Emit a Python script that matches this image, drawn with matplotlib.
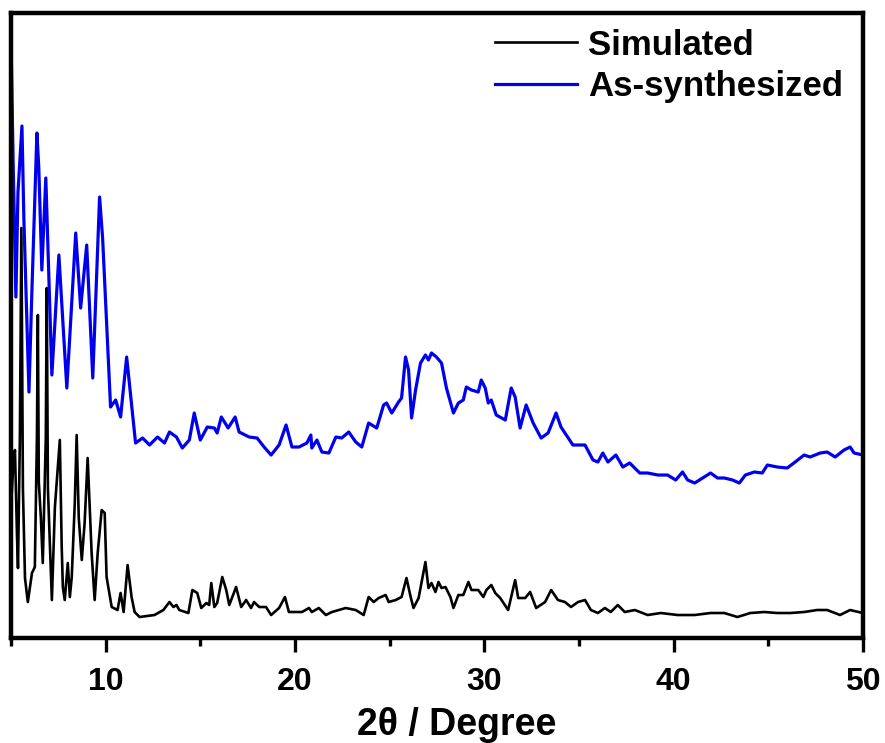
import matplotlib
matplotlib.use('Agg')
import matplotlib.pyplot as plt
from matplotlib.ticker import MultipleLocator

plt.rcParams['font.family'] = ['Liberation Sans', 'DejaVu Sans']
plt.rcParams['font.weight'] = 'bold'

# PXRD patterns (2theta in degrees, intensity a.u.)
sim_2theta = [5.00, 5.11, 5.21, 5.32, 5.37, 5.47, 5.55, 5.63, 5.74, 5.89, 6.11, 6.26,
              6.37, 6.42, 6.47, 6.58, 6.68, 6.84, 6.89, 6.95, 7.16, 7.32, 7.58, 7.68,
              7.74, 7.84, 8.00, 8.11, 8.21, 8.37, 8.47, 8.58, 8.74, 8.89, 9.05, 9.26,
              9.42, 9.58, 9.79, 9.95, 10.05, 10.32, 10.63, 10.79, 10.95, 11.16, 11.37,
              11.53, 11.79, 12.58, 13.05, 13.37, 13.58, 13.74, 13.89, 14.37, 14.58, 14.84,
              15.05, 15.32, 15.47, 15.58, 15.74, 15.89, 16.16, 16.37, 16.53, 16.89, 17.16,
              17.42, 17.68, 17.84, 18.11, 18.47, 18.74, 19.16, 19.47, 19.68, 20.05, 20.37,
              20.74, 20.89, 21.26, 21.63, 21.95, 22.32, 22.68, 23.21, 23.63, 23.89, 24.16,
              24.42, 24.79, 24.95, 25.32, 25.63, 25.89, 26.11, 26.26, 26.53, 26.89, 27.05,
              27.21, 27.42, 27.58, 27.74, 27.95, 28.21, 28.37, 28.63, 28.89, 29.16, 29.32,
              29.68, 29.95, 30.11, 30.37, 30.58, 30.84, 31.26, 31.63, 31.79, 32.16, 32.42,
              32.74, 33.21, 33.53, 33.89, 34.26, 34.58, 34.95, 35.32, 35.63, 36.00, 36.37,
              36.68, 37.05, 37.42, 37.95, 38.63, 39.32, 40.21, 41.11, 41.95, 42.68, 43.37,
              44.05, 44.79, 45.47, 46.16, 46.89, 47.58, 48.11, 48.79, 49.32, 50.00]
sim_int = [130, 170, 188, 101, 70, 200, 410, 150, 60, 36, 65, 71,
           200, 323, 156, 120, 75, 200, 350, 150, 38, 131, 198, 91,
           51, 38, 75, 41, 61, 135, 203, 120, 78, 115, 180, 85,
           38, 85, 128, 125, 61, 31, 28, 45, 26, 73, 41,
           26, 21, 23, 28, 36, 31, 33, 28, 25, 48, 45,
           30, 35, 33, 55, 31, 35, 61, 48, 33, 51, 31,
           38, 30, 36, 31, 31, 23, 30, 41, 26, 26, 26,
           30, 26, 30, 23, 26, 28, 30, 28, 23, 41, 36,
           40, 43, 36, 38, 41, 60, 41, 30, 40, 76, 50,
           55, 46, 56, 50, 51, 41, 30, 43, 43, 56, 48,
           48, 41, 48, 53, 45, 40, 28, 58, 40, 40, 46,
           30, 36, 48, 38, 36, 31, 36, 38, 28, 25, 30,
           26, 33, 26, 28, 23, 25, 23, 23, 25, 25, 21,
           25, 26, 25, 25, 26, 28, 28, 23, 28, 25]

syn_2theta = [5.00, 5.11, 5.26, 5.37, 5.58, 5.68, 5.95, 6.11, 6.37, 6.47, 6.63, 6.84,
              7.16, 7.53, 7.95, 8.42, 8.68, 9.00, 9.32, 9.68, 9.84, 10.26, 10.53, 10.79,
              11.11, 11.58, 11.95, 12.32, 12.74, 13.11, 13.37, 13.74, 14.05, 14.42, 14.68,
              15.00, 15.37, 15.74, 15.89, 16.11, 16.47, 16.84, 17.05, 17.58, 18.00, 18.37,
              18.74, 19.16, 19.53, 19.84, 20.21, 20.63, 20.84, 20.89, 21.16, 21.42, 21.79,
              22.16, 22.47, 22.84, 23.21, 23.53, 23.89, 24.32, 24.68, 24.84, 25.11, 25.47,
              25.63, 25.84, 26.00, 26.16, 26.37, 26.63, 26.89, 27.05, 27.21, 27.47, 27.74,
              28.00, 28.37, 28.63, 28.89, 29.05, 29.32, 29.68, 29.84, 30.05, 30.21, 30.37,
              30.63, 31.11, 31.42, 31.63, 31.89, 32.21, 32.58, 33.00, 33.37, 33.79, 34.05,
              34.68, 35.32, 35.74, 36.00, 36.26, 36.53, 36.95, 37.32, 37.68, 38.21, 38.63,
              39.16, 39.68, 40.11, 40.47, 40.74, 41.11, 41.53, 41.95, 42.32, 42.68, 43.11,
              43.47, 43.79, 44.26, 44.68, 44.95, 45.47, 46.00, 46.42, 46.89, 47.21, 47.74,
              48.11, 48.53, 49.00, 49.32, 49.53, 50.00]
syn_int = [601, 480, 341, 446, 512, 420, 246, 350, 505, 470, 368, 460,
           263, 383, 250, 405, 330, 393, 260, 441, 400, 231, 238, 221,
           281, 195, 200, 193, 201, 195, 206, 201, 190, 198, 225,
           198, 211, 210, 205, 221, 210, 221, 206, 201, 200, 191,
           183, 193, 213, 191, 191, 195, 203, 190, 198, 186, 185,
           201, 200, 206, 196, 191, 215, 210, 233, 235, 225, 236,
           240, 281, 268, 220, 248, 275, 283, 278, 285, 281, 275,
           250, 225, 235, 238, 251, 248, 246, 258, 250, 235, 238,
           223, 218, 250, 241, 210, 233, 215, 200, 205, 225, 211,
           193, 193, 178, 176, 185, 176, 183, 171, 175, 165, 165,
           163, 163, 158, 166, 158, 155, 160, 165, 160, 160, 158,
           155, 163, 166, 165, 173, 171, 170, 176, 183, 181, 185,
           186, 181, 188, 191, 185, 183]

fig = plt.figure(figsize=(8.85, 7.43), dpi=100)
ax = fig.add_axes([0.0124, 0.1413, 0.9627, 0.8412])

ax.plot(sim_2theta, sim_int, color='black', lw=1.9, label='Simulated')
ax.plot(syn_2theta, syn_int, color='#0000ee', lw=2.3, label='As-synthesized')

ax.set_xlim(5, 50)
ax.set_ylim(0, 625)
ax.set_yticks([])
ax.xaxis.set_major_locator(MultipleLocator(10))
ax.xaxis.set_minor_locator(MultipleLocator(5))
ax.tick_params(axis='x', which='major', direction='out', length=10, width=2.4,
               labelsize=23, pad=11)
ax.tick_params(axis='x', which='minor', direction='out', length=6, width=2.4)
for lab in ax.get_xticklabels():
    lab.set_fontweight('bold')
for sp in ax.spines.values():
    sp.set_linewidth(3.2)

ax.set_xlabel('2θ / Degree', fontsize=27, fontweight='bold', labelpad=7)
ax.xaxis.label.set_x(0.523)

ax.legend(loc='upper left', bbox_to_anchor=(0.568, 0.975), frameon=False,
          handlelength=2.35, handletextpad=0.34, labelspacing=0.24,
          borderpad=0, borderaxespad=0, prop={'weight': 'bold', 'size': 25})

fig.savefig('out.png', dpi=100)
